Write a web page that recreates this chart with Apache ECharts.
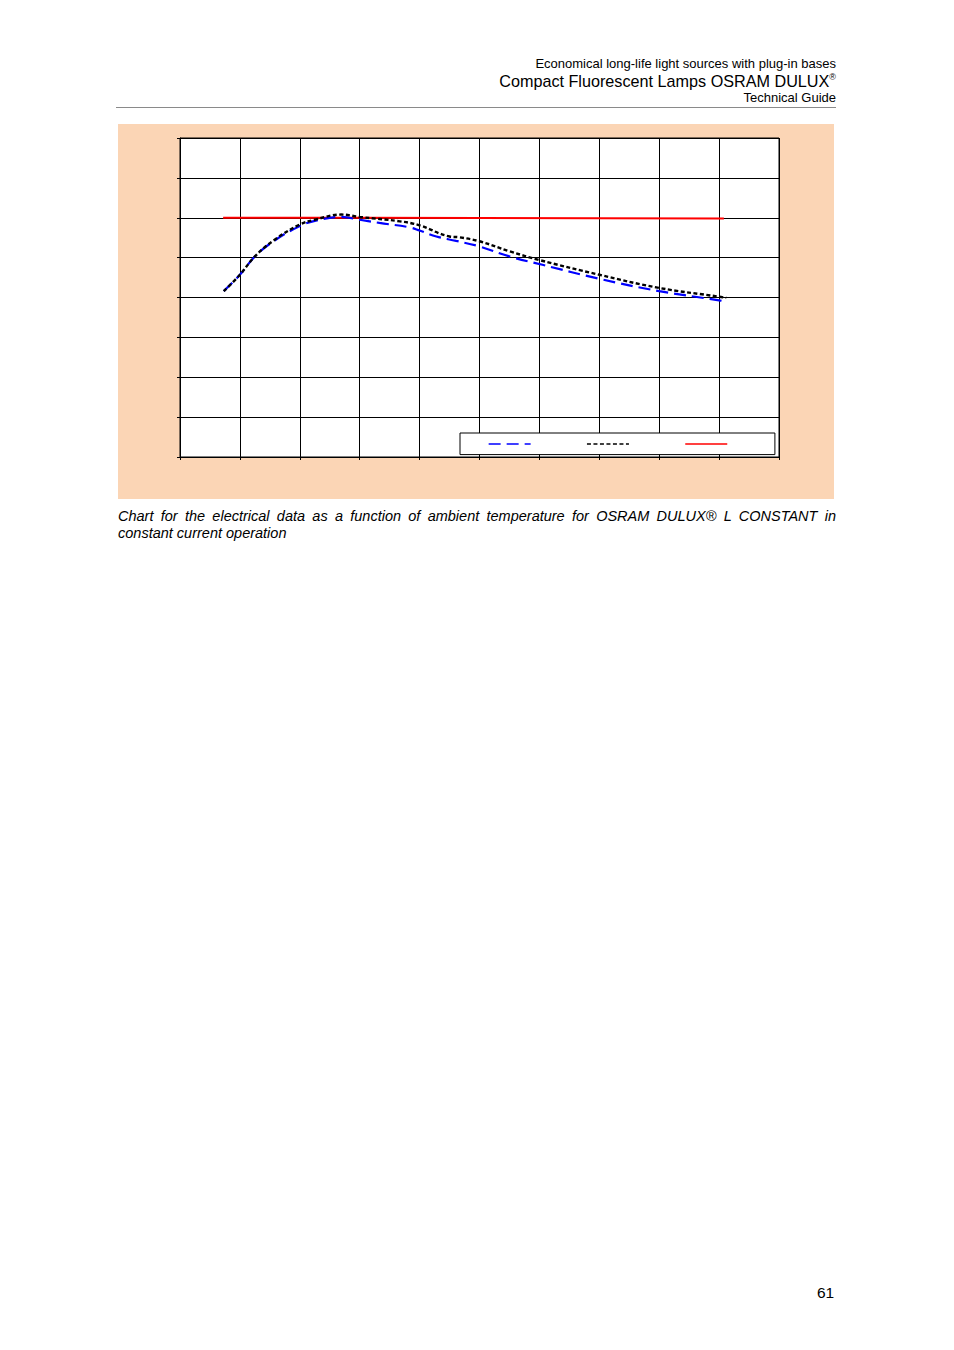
<!DOCTYPE html>
<html>
<head>
<meta charset="utf-8">
<script src="https://cdn.jsdelivr.net/npm/echarts@6/dist/echarts.min.js"></script>
<style>
  html, body { margin: 0; padding: 0; background: #fff; }
  body { width: 954px; height: 1350px; position: relative; font-family: "Liberation Sans", Arial, Helvetica, sans-serif; color: #000; }
  .hdr { position: absolute; right: 118px; text-align: right; white-space: nowrap; }
  #h1 { top: 56px; font-size: 13px; }
  #h2 { top: 72px; font-size: 16.2px; }
  #h2 sup { font-size: 9px; position: relative; top: -1px; }
  #h3 { top: 90px; font-size: 13px; }
  #rule { position: absolute; left: 116px; top: 107px; width: 720px; height: 0; border-top: 1px solid #8a8a8a; }
  #chart { position: absolute; left: 118px; top: 124px; width: 716px; height: 375px; }
  #caption { position: absolute; left: 118px; top: 508px; width: 718px; font-size: 14.5px; font-style: italic; line-height: 17px; }
  #cap1 { text-align: justify; text-align-last: justify; white-space: nowrap; }
  #page { position: absolute; left: 817px; top: 1284px; font-size: 15.5px; }
</style>
</head>
<body>
<div class="hdr" id="h1">Economical long-life light sources with plug-in bases</div>
<div class="hdr" id="h2">Compact Fluorescent Lamps OSRAM DULUX<sup>®</sup></div>
<div class="hdr" id="h3">Technical Guide</div>
<div id="rule"></div>
<div id="chart"></div>
<div id="caption"><div id="cap1">Chart for the electrical data as a function of ambient temperature for OSRAM DULUX® L CONSTANT in</div><div>constant current operation</div></div>
<div id="page">61</div>
<script>
// Axis ticks (no labels are printed on the reference)
const xTicks = [0, 10, 20, 30, 40, 50, 60, 70, 80, 90, 100];
const yTicks = [40, 50, 60, 70, 80, 90, 100, 110, 120];

// Series names (legend shows only line samples)
const seriesNames = ['Series A', 'Series B', 'Series C'];

// Blue dashed series
const blueX = [7.3, 10, 12.5, 15.8, 20, 22.5, 26.9, 30, 33.3, 38.3, 40, 42.8, 46.1, 50, 55, 60.5, 70, 80, 90, 91];
const blueY = [81.6, 85.7, 90.3, 94.3, 97.9, 99.2, 100.2, 99.5, 98.7, 97.6, 96.8, 95.3, 94.2, 92.8, 90.3, 88.2, 84.7, 81.6, 79.3, 79.0];

// Black dotted series
const blackX = [7.3, 10, 12.5, 15.8, 20, 22.5, 26.9, 30, 36.7, 40, 45, 46.7, 50, 55, 60, 70, 80, 90, 91.2];
const blackY = [81.6, 85.7, 90.3, 94.5, 98.3, 99.5, 100.8, 100.2, 99.1, 98.1, 95.3, 95.1, 94.1, 91.6, 89.4, 85.7, 82.4, 80.2, 79.9];

// Red solid series
const redX = [7.2, 30, 50, 70, 90.8];
const redY = [100.0, 100.0, 99.95, 99.85, 99.8];

const pair = (xs, ys) => xs.map((x, i) => [x, ys[i]]);

const chart = echarts.init(document.getElementById('chart'), null, { renderer: 'canvas' });
const axisCommon = {
  type: 'value',
  axisLine: { show: true, lineStyle: { color: '#000', width: 1 } },
  axisTick: { show: true, inside: false, length: 3, lineStyle: { color: '#000', width: 1 } },
  axisLabel: { show: false },
  splitLine: { show: true, showMinLine: true, showMaxLine: true, lineStyle: { color: '#000', width: 1 } }
};
chart.setOption({
  backgroundColor: '#FBD5B5',
  animation: false,
  grid: { left: 62, top: 14, width: 599, height: 319, show: true, backgroundColor: '#fff', borderColor: '#000', borderWidth: 1 },
  xAxis: Object.assign({}, axisCommon, { min: xTicks[0], max: xTicks[xTicks.length - 1], interval: xTicks[1] - xTicks[0] }),
  yAxis: Object.assign({}, axisCommon, { min: yTicks[0], max: yTicks[yTicks.length - 1], interval: yTicks[1] - yTicks[0] }),
  legend: {
    data: seriesNames,
    left: 342, top: 309,
    orient: 'horizontal',
    itemWidth: 42, itemHeight: 14, itemGap: 55,
    formatter: () => '',
    itemStyle: { color: 'rgba(0,0,0,0)', borderColor: 'rgba(0,0,0,0)', borderWidth: 0, opacity: 0 },
    lineStyle: { width: 1.3 },
    backgroundColor: '#fff', borderColor: '#000', borderWidth: 1, borderRadius: 0,
    padding: [4, 47, 5, 28],
    selectedMode: false
  },
  series: [
    {
      name: seriesNames[2], type: 'line', data: pair(redX, redY), symbol: 'none', smooth: false,
      lineStyle: { color: '#ff0000', width: 2, type: 'solid' }, itemStyle: { color: '#ff0000' }, z: 2
    },
    {
      name: seriesNames[0], type: 'line', data: pair(blueX, blueY), symbol: 'none', smooth: 0.4,
      lineStyle: { color: '#0000ff', width: 2.2, type: [12, 6] }, itemStyle: { color: '#0000ff' }, z: 3
    },
    {
      name: seriesNames[1], type: 'line', data: pair(blackX, blackY), symbol: 'none', smooth: 0.4,
      lineStyle: { color: '#000', width: 2.4, type: [4, 2.5] }, itemStyle: { color: '#000' }, z: 4
    }
  ]
});
</script>
</body>
</html>
